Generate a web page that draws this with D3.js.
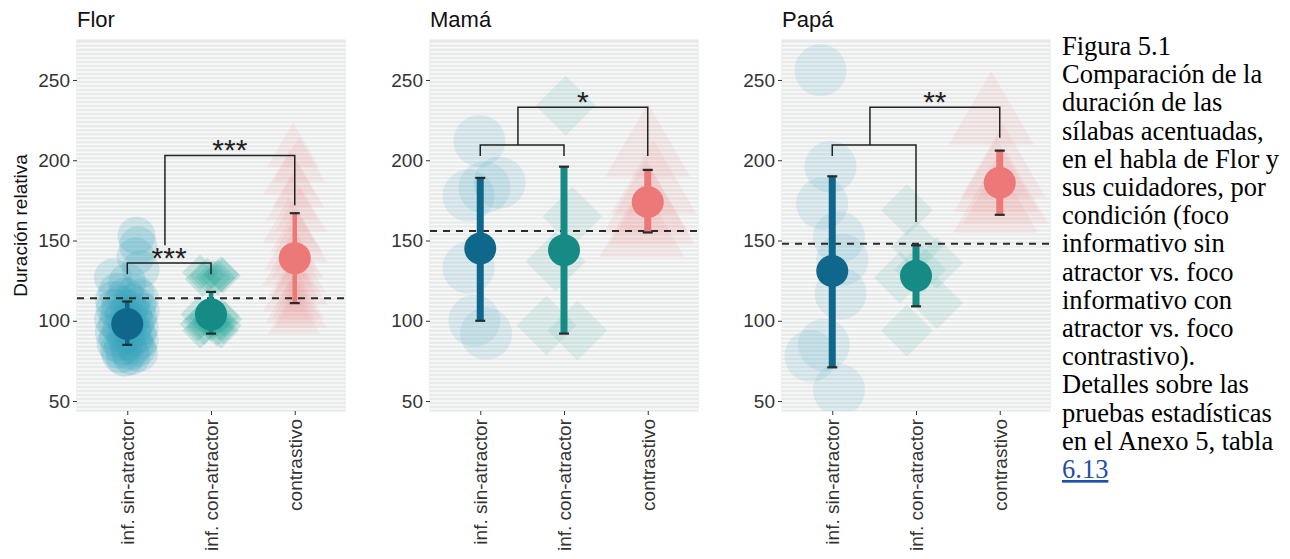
<!DOCTYPE html>
<html>
<head>
<meta charset="utf-8">
<script src="https://cdn.jsdelivr.net/npm/d3@7"></script>
<style>
body { margin: 0; background: #fff; }
</style>
</head>
<body>
<svg id="chart" width="1290" height="559"></svg>
<script>
var categories = ["inf. sin-atractor", "inf. con-atractor", "contrastivo"];
var speakers = ["Flor", "Mamá", "Papá"];
var yTicks = [50, 100, 150, 200, 250];

// raw observations: [duración relativa, jitter in category units]
var florSin = [[153, 0.11], [147, 0.13], [140, 0.1], [132, 0.16], [127, -0.17], [124, 0],
  [118, -0.12], [117, 0.1], [115, -0.02], [114, 0.15], [113, -0.16], [111, 0.05], [110, -0.08], [109, 0.12],
  [108, -0.15], [107, 0.02], [106, 0.16], [105, -0.1], [104, 0.07], [103, -0.04], [102, 0.13], [101, -0.17],
  [100, 0.03], [99, 0.1], [98, -0.12], [97, 0], [96, 0.15], [95, -0.07], [94, 0.06], [93, -0.16],
  [92, 0.12], [91, -0.02], [90, 0.08], [89, -0.11], [88, 0.15], [87, 0], [86, -0.14], [85, 0.09],
  [84, -0.05], [83, 0.12], [82, -0.1], [81, 0.03], [80, 0.14], [79, -0.08], [78, 0.05], [77, -0.03]];
var florCon = [[130, -0.13], [129, 0.12], [128, -0.04], [128, 0.14], [127, 0.03], [126, -0.1], [127, 0.08],
  [104, -0.15], [103, 0.13], [102, -0.05], [101, 0.16], [100, -0.12], [100, 0.04], [99, 0.1], [98, -0.16],
  [98, 0], [97, 0.15], [96, -0.08], [95, 0.07], [94, -0.13], [94, 0.12], [101, 0]];
var florContr = [[205, -0.02], [196, 0.05], [188, -0.06], [180, 0.04], [172, -0.03], [165, 0.07], [158, -0.07],
  [152, 0.02], [146, 0.08], [141, -0.05], [136, 0.03], [131, -0.08], [127, 0.06], [123, -0.02], [119, 0.08],
  [115, -0.07], [111, 0.04], [108, -0.04], [105, 0.07], [101, -0.01]];

var mamaSin = [[212, -0.01], [186, 0.23], [183, 0.05], [178, -0.14], [133, -0.14], [100, -0.07], [92, 0.07]];
var mamaCon = [[234, 0.02], [165, 0.1], [137, -0.1], [97, -0.21], [94, 0.16]];
var mamaContr = [[155, -0.07], [163, 0.05], [170, -0.02], [182, 0.07], [205, 0]];

var papaSin = [[256, -0.14], [196, -0.02], [173, -0.12], [152, 0.08], [138, 0.12], [117, 0.1], [85, -0.1],
  [78, -0.26], [57, 0.08]];
var papaCon = [[169, -0.11], [146, 0.01], [136, 0.25], [132, 0.05], [127, -0.19], [111, 0.25], [94, -0.11]];
var papaContr = [[170, -0.05], [176, 0.07], [183, -0.04], [192, 0.04], [225, -0.1]];

// mean and interval per speaker (rows) and condition (columns)
var means = [[98, 104, 139], [145, 144, 174], [131, 128, 186]];
var ciLow = [[85, 92, 111], [100, 92, 155], [71, 109, 166]];
var ciHigh = [[112, 118, 167], [189, 196, 194], [190, 147, 206]];
var refLine = [114, 156, 148];

// brackets: [x start, x end, top, left leg end, right leg end]
var florBrackets = [[1, 2, 136, 129, 129], [1.45, 3, 203, 147, 172]];
var mamaBrackets = [[1, 2, 209.5, 202.6, 202.6], [1.45, 3, 233, 209.5, 202.6]];
var papaBrackets = [[1, 2, 209.5, 202.6, 161.5], [1.45, 3, 233, 209.5, 214]];
var florSig = ["***", "***"];
var mamaSig = ["", "*"];
var papaSig = ["", "**"];

var caption = ["Figura 5.1", "Comparación de la", "duración de las", "sílabas acentuadas,",
  "en el habla de Flor y", "sus cuidadores, por", "condición (foco", "informativo sin",
  "atractor vs. foco", "informativo con", "atractor vs. foco", "contrastivo).",
  "Detalles sobre las", "pruebas estadísticas", "en el Anexo 5, tabla", "6.13"];

var rawData = [[florSin, florCon, florContr], [mamaSin, mamaCon, mamaContr], [papaSin, papaCon, papaContr]];
var brackets = [florBrackets, mamaBrackets, papaBrackets];
var sigLabels = [florSig, mamaSig, papaSig];

var panelLeft = [77, 430, 782];
var panelW = 268, panelTop = 40, panelBottom = 411;
var sizes = [
  {r: 19, d: 18, t: 52, bar: 4.5, alpha: [0.2, 0.2, 0.1]},
  {r: 26, d: 30, t: 85, bar: 7, alpha: [0.13, 0.11, 0.11]},
  {r: 26, d: 26, t: 85, bar: 7, alpha: [0.13, 0.11, 0.11]}];
var meanColors = ["#0f678b", "#168b85", "#ec7977"];
var rawColors = ["#36a3c0", "#1fa597", "#f07c7c"];

var svg = d3.select("#chart");
var font = "'Liberation Sans', Arial, sans-serif";

svg.append("text")
  .attr("transform", "translate(20," + (panelTop + panelBottom) / 2 + ") rotate(-90)")
  .attr("text-anchor", "middle")
  .attr("dominant-baseline", "central")
  .style("font-family", font).style("font-size", "19px").attr("fill", "#111")
  .text("Duración relativa");

speakers.forEach(function(name, i) {
  var g = svg.append("g").attr("transform", "translate(" + panelLeft[i] + ",0)");
  var x = d3.scaleLinear().domain([0.4, 3.6]).range([0, panelW]);
  var y = d3.scaleLinear().domain([43.8, 274.9]).range([panelBottom, panelTop]);
  var sz = sizes[i];

  g.append("clipPath").attr("id", "clip" + i)
    .append("rect").attr("x", 0).attr("y", panelTop).attr("width", panelW).attr("height", panelBottom - panelTop);

  g.append("rect")
    .attr("x", 0).attr("y", panelTop).attr("width", panelW).attr("height", panelBottom - panelTop)
    .attr("fill", "#e9eaea").attr("stroke", "#dfe8e8");

  // fine horizontal stripes of the panel background
  g.append("g").selectAll("line")
    .data(d3.range(45, 275, 2.5))
    .enter().append("line")
    .attr("x1", 0).attr("x2", panelW)
    .attr("y1", function(v) { return y(v); }).attr("y2", function(v) { return y(v); })
    .attr("stroke", "#fafafa").attr("stroke-width", 1.5);

  var pts = g.append("g").attr("clip-path", "url(#clip" + i + ")");

  // sin-atractor: circles
  pts.selectAll("circle.raw").data(rawData[i][0]).enter().append("circle")
    .attr("class", "raw")
    .attr("cx", function(d) { return x(1 + d[1]); })
    .attr("cy", function(d) { return y(d[0]); })
    .attr("r", sz.r)
    .attr("fill", rawColors[0]).attr("fill-opacity", sz.alpha[0]);

  // con-atractor: diamonds
  pts.selectAll("path.dia").data(rawData[i][1]).enter().append("path")
    .attr("class", "dia")
    .attr("d", "M0," + (-sz.d) + "L" + sz.d + ",0L0," + sz.d + "L" + (-sz.d) + ",0Z")
    .attr("transform", function(d) { return "translate(" + x(2 + d[1]) + "," + y(d[0]) + ")"; })
    .attr("fill", rawColors[1]).attr("fill-opacity", sz.alpha[1]);

  // contrastivo: triangles
  var triArea = sz.t * sz.t * Math.sqrt(3) / 4;
  pts.selectAll("path.tri").data(rawData[i][2]).enter().append("path")
    .attr("class", "tri")
    .attr("d", d3.symbol().type(d3.symbolTriangle).size(triArea))
    .attr("transform", function(d) { return "translate(" + x(3 + d[1]) + "," + y(d[0]) + ")"; })
    .attr("fill", rawColors[2]).attr("fill-opacity", sz.alpha[2]);

  // dashed reference line
  g.append("line")
    .attr("x1", 0).attr("x2", panelW)
    .attr("y1", y(refLine[i])).attr("y2", y(refLine[i]))
    .attr("stroke", "#2b2b2b").attr("stroke-width", 2).attr("stroke-dasharray", "7,6");

  // intervals and means
  var cond = g.append("g");
  categories.forEach(function(c, j) {
    var cx = x(j + 1);
    cond.append("line")
      .attr("x1", cx).attr("x2", cx)
      .attr("y1", y(ciLow[i][j])).attr("y2", y(ciHigh[i][j]))
      .attr("stroke", meanColors[j]).attr("stroke-width", sz.bar);
    [ciLow[i][j], ciHigh[i][j]].forEach(function(v) {
      cond.append("line")
        .attr("x1", cx - 5).attr("x2", cx + 5)
        .attr("y1", y(v)).attr("y2", y(v))
        .attr("stroke", "#2a2a2a").attr("stroke-width", 2.2);
    });
    cond.append("circle")
      .attr("cx", cx).attr("cy", y(means[i][j])).attr("r", 16)
      .attr("fill", meanColors[j]);
  });

  // significance brackets
  var br = g.append("g");
  brackets[i].forEach(function(b, k) {
    br.append("path")
      .attr("d", "M" + x(b[0]) + "," + y(b[3]) + "V" + y(b[2]) + "H" + x(b[1]) + "V" + y(b[4]))
      .attr("fill", "none").attr("stroke", "#222").attr("stroke-width", 1.5);
    br.append("text")
      .attr("x", x((b[0] + b[1]) / 2)).attr("y", y(b[2]) + 5)
      .attr("text-anchor", "middle")
      .style("font-family", font).style("font-size", "30px").attr("fill", "#222")
      .text(sigLabels[i][k]);
  });

  // axes
  var yAxis = d3.axisLeft(y).tickValues(yTicks).tickSize(4).tickPadding(3);
  var ya = g.append("g").call(yAxis);
  ya.select(".domain").remove();
  ya.selectAll("line").attr("stroke", "#333");
  ya.selectAll("text").style("font-family", font).style("font-size", "19px").attr("fill", "#333");

  var xAxis = d3.axisBottom(x).tickValues([1, 2, 3]).tickSize(4)
    .tickFormat(function(v) { return categories[v - 1]; });
  var xa = g.append("g").attr("transform", "translate(0," + panelBottom + ")").call(xAxis);
  xa.select(".domain").remove();
  xa.selectAll("line").attr("stroke", "#333");
  xa.selectAll("text")
    .attr("transform", "rotate(-90)")
    .attr("x", -8).attr("y", 0).attr("dy", "0.35em")
    .attr("text-anchor", "end")
    .style("font-family", font).style("font-size", "19px").attr("fill", "#333");

  g.append("text")
    .attr("x", 0).attr("y", 27)
    .style("font-family", font).style("font-size", "22px").attr("fill", "#111")
    .text(name);
});

// figure caption
var cap = svg.append("g").style("font-family", "'Liberation Serif', 'Times New Roman', serif")
  .style("font-size", "26.5px");
cap.selectAll("text").data(caption).enter().append("text")
  .attr("x", 1062)
  .attr("y", function(d, k) { return 55 + k * 28.2; })
  .attr("fill", function(d, k) { return k === caption.length - 1 ? "#1f4fa8" : "#000"; })
  .style("text-decoration", function(d, k) { return k === caption.length - 1 ? "underline" : null; })
  .text(function(d) { return d; });
</script>
</body>
</html>
